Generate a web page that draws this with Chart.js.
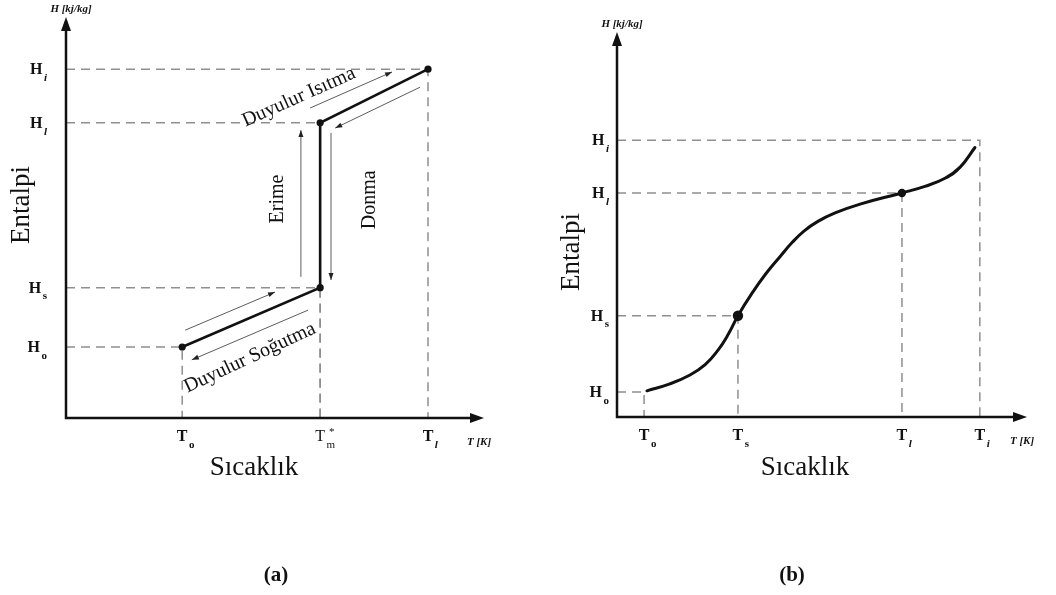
<!DOCTYPE html>
<html>
<head>
<meta charset="utf-8">
<script src="https://cdn.jsdelivr.net/npm/chart.js@4.4.0/dist/chart.umd.min.js"></script>
<style>
  html, body { margin: 0; padding: 0; background: #ffffff; }
  #wrap { position: relative; width: 1056px; height: 595px; overflow: hidden; }
  .pane { position: absolute; top: 0; width: 528px; height: 595px; }
  canvas { display: block; }
</style>
</head>
<body>
<div id="wrap">
  <div class="pane" style="left:0"><canvas id="chartA" width="528" height="595"></canvas></div>
  <div class="pane" style="left:528px"><canvas id="chartB" width="528" height="595"></canvas></div>
</div>
<script>
// ---- (a) idealised phase-change path: sensible heating, melting at T_m*, sensible heating ----
const tempTicksA   = [27.8, 60.8, 86.6];
const tempLabelsA  = ['T_o', 'T_m^*', 'T_l'];
const tempBoldA    = [true, false, true];
const enthTicksA   = [17.7, 32.5, 73.6, 87.0];
const enthLabelsA  = ['H_o', 'H_s', 'H_l', 'H_i'];
const pathTempA    = [27.8, 60.8, 60.8, 86.6];
const pathEnthA    = [17.7, 32.5, 73.6, 87.0];

// ---- (b) real material: smooth enthalpy-temperature curve ----
const tempTicksB   = [6.6, 29.5, 69.5, 88.5];
const tempLabelsB  = ['T_o', 'T_s', 'T_l', 'T_i'];
const tempBoldB    = [true, true, true, true];
const enthTicksB   = [6.5, 26.3, 58.2, 71.9];
const enthLabelsB  = ['H_o', 'H_s', 'H_l', 'H_i'];
const curveTempB   = [7.3, 12.9, 17.8, 21.5, 24.6, 27.1, 29.5, 32.9, 36.3, 39.8, 42.7, 45.6, 49.0, 53.2, 59.3, 69.5, 75.1, 80.0, 83.7, 87.3];
const curveEnthB   = [6.8, 8.6, 10.9, 13.6, 17.3, 21.4, 26.3, 32.1, 37.2, 41.7, 45.3, 48.3, 50.8, 53.0, 55.3, 58.2, 59.9, 62.0, 64.9, 70.0];
const markTempB    = [29.5, 69.5];
const markEnthB    = [26.3, 58.2];

const SERIF = '"Liberation Serif", "Times New Roman", serif';
const INK = '#111111';
const GUIDE = '#8f8f8f';

function zipXY(xs, ys) { return xs.map((x, i) => ({ x, y: ys[i] })); }

// dashed reference lines: from the H axis across to the point, then down to the T axis
function guideSets(ts, hs) {
  return ts.map((t, i) => ({
    data: [{ x: 0, y: hs[i] }, { x: t, y: hs[i] }, { x: t, y: 0 }],
    showLine: true, borderColor: GUIDE, borderWidth: 1.5, borderDash: [9, 6],
    pointRadius: 0, fill: false, order: 5
  }));
}

// label like H_i, T_m^* : base glyph plus subscript (and optional superscript)
function drawLabel(ctx, label, bold, x, baseY, size, anchor) {
  const parts = label.split('_');
  const base = parts[0];
  const rest = (parts[1] || '').split('^');
  const sub = rest[0] || '';
  const sup = rest[1] || '';
  const w = bold ? 'bold ' : '';
  const baseFont = w + size + 'px ' + SERIF;
  const subSize = Math.round(size * 0.68);
  const subIt = (sub === 'i' || sub === 'l') ? 'italic ' : '';
  const subFont = subIt + w + subSize + 'px ' + SERIF;
  ctx.font = baseFont; const bw = ctx.measureText(base).width;
  ctx.font = subFont; const sw = ctx.measureText(sub).width;
  const x0 = anchor === 'right' ? x - bw - 1.5 - sw : x - bw / 2;
  ctx.textAlign = 'left'; ctx.textBaseline = 'alphabetic';
  ctx.fillStyle = INK;
  ctx.font = baseFont; ctx.fillText(base, x0, baseY);
  ctx.font = subFont; ctx.fillText(sub, x0 + bw + 1.5, baseY + size * 0.42);
  if (sup) {
    ctx.font = subSize + 'px ' + SERIF;
    ctx.fillText(sup, x0 + bw + 1.5 + sw * 0.3, baseY - size * 0.38);
  }
}

function arrowHead(ctx, x1, y1, x2, y2, len, half) {
  const a = Math.atan2(y2 - y1, x2 - x1);
  ctx.beginPath();
  ctx.moveTo(x2, y2);
  ctx.lineTo(x2 - len * Math.cos(a) + half * Math.sin(a), y2 - len * Math.sin(a) - half * Math.cos(a));
  ctx.lineTo(x2 - len * Math.cos(a) - half * Math.sin(a), y2 - len * Math.sin(a) + half * Math.cos(a));
  ctx.closePath();
  ctx.fill();
}

function rotatedText(ctx, text, x, y, deg, font) {
  ctx.save();
  ctx.translate(x, y);
  ctx.rotate(deg * Math.PI / 180);
  ctx.font = font; ctx.fillStyle = INK;
  ctx.textAlign = 'center'; ctx.textBaseline = 'middle';
  ctx.fillText(text, 0, 0);
  ctx.restore();
}

// axes with arrow tips, tick labels, axis titles, notes and flow arrows
function decorPlugin(cfg) {
  return {
    id: 'decor',
    afterDatasetsDraw(chart) {
      const ctx = chart.ctx;
      const xs = chart.scales.x, ys = chart.scales.y;
      const ox = xs.getPixelForValue(0), oy = ys.getPixelForValue(0);
      const tipX = xs.getPixelForValue(100), tipY = ys.getPixelForValue(100);
      ctx.save();
      // axes
      ctx.strokeStyle = INK; ctx.fillStyle = INK; ctx.lineWidth = 2.5; ctx.lineCap = 'butt';
      ctx.beginPath();
      ctx.moveTo(ox, tipY + 8); ctx.lineTo(ox, oy); ctx.lineTo(tipX - 8, oy);
      ctx.stroke();
      arrowHead(ctx, ox, oy, ox, tipY, 14, 5);
      arrowHead(ctx, ox, oy, tipX, oy, 14, 5);

      // flow arrows (thin)
      ctx.strokeStyle = '#4a4a4a'; ctx.fillStyle = '#222'; ctx.lineWidth = 0.9;
      (cfg.flows || []).forEach(f => {
        const x1 = xs.getPixelForValue(f[0]), y1 = ys.getPixelForValue(f[1]);
        const x2 = xs.getPixelForValue(f[2]), y2 = ys.getPixelForValue(f[3]);
        ctx.beginPath(); ctx.moveTo(x1, y1); ctx.lineTo(x2, y2); ctx.stroke();
        arrowHead(ctx, x1, y1, x2, y2, 7, 2.5);
      });

      // tick labels
      cfg.hTicks.forEach((v, i) => {
        drawLabel(ctx, cfg.hLabels[i], true, ox - cfg.hGap, ys.getPixelForValue(v) + 5, 16, 'right');
      });
      cfg.tTicks.forEach((v, i) => {
        drawLabel(ctx, cfg.tLabels[i], cfg.tBold[i], xs.getPixelForValue(v), oy + 23, 16, 'center');
      });

      // unit labels
      ctx.fillStyle = INK;
      ctx.font = 'italic bold 11px ' + SERIF;
      ctx.textAlign = 'center'; ctx.textBaseline = 'middle';
      ctx.fillText('H [kj/kg]', ox + 5, tipY - 8);
      ctx.fillText('T [K]', tipX - 5, oy + 24);

      // axis titles
      rotatedText(ctx, 'Entalpi', cfg.yTitle[0], cfg.yTitle[1], -90, '27px ' + SERIF);
      ctx.font = '27px ' + SERIF; ctx.fillStyle = INK;
      ctx.textAlign = 'center'; ctx.textBaseline = 'alphabetic';
      ctx.fillText('Sıcaklık', cfg.xTitle[0], cfg.xTitle[1]);

      // notes along the path
      (cfg.notes || []).forEach(n => {
        rotatedText(ctx, n[0], xs.getPixelForValue(n[1]), ys.getPixelForValue(n[2]), n[3], '20px ' + SERIF);
      });

      // panel caption
      ctx.font = 'bold 21px ' + SERIF; ctx.fillStyle = INK;
      ctx.textAlign = 'center'; ctx.textBaseline = 'alphabetic';
      ctx.fillText(cfg.caption, cfg.captionPos[0], cfg.captionPos[1]);
      ctx.restore();
    }
  };
}

function baseOptions(pad) {
  return {
    responsive: false,
    animation: false,
    devicePixelRatio: 1,
    layout: { padding: pad },
    plugins: { legend: { display: false }, tooltip: { enabled: false } },
    scales: {
      x: { type: 'linear', min: 0, max: 100, display: false },
      y: { type: 'linear', min: 0, max: 100, display: false }
    }
  };
}

// chart (a)
new Chart(document.getElementById('chartA'), {
  type: 'scatter',
  data: {
    datasets: [
      {
        data: zipXY(pathTempA, pathEnthA),
        showLine: true, borderColor: INK, borderWidth: 2.6, tension: 0,
        pointRadius: 3.6, pointBackgroundColor: INK, pointBorderWidth: 0,
        clip: false, order: 0
      },
      ...guideSets(pathTempA, pathEnthA)
    ]
  },
  options: baseOptions({ left: 66, right: 44, top: 17, bottom: 177 }),
  plugins: [decorPlugin({
    hTicks: enthTicksA, hLabels: enthLabelsA, hGap: 19,
    tTicks: tempTicksA, tLabels: tempLabelsA, tBold: tempBoldA,
    yTitle: [22, 205], xTitle: [254, 475],
    caption: '(a)', captionPos: [276, 581],
    notes: [
      ['Duyulur Isıtma', 55.7, 80.0, -24],
      ['Erime', 50.7, 54.6, -90],
      ['Donma', 72.7, 54.4, -90],
      ['Duyulur Soğutma', 44.0, 15.0, -25]
    ],
    flows: [
      [58.4, 77.3, 78.0, 86.3],
      [84.7, 82.5, 64.4, 72.3],
      [56.2, 35.2, 56.2, 71.8],
      [63.4, 71.1, 63.4, 34.4],
      [28.5, 21.9, 50.0, 31.4],
      [57.9, 26.9, 30.1, 14.5]
    ]
  })]
});

// chart (b)
new Chart(document.getElementById('chartB'), {
  type: 'scatter',
  data: {
    datasets: [
      {
        data: zipXY(markTempB, markEnthB),
        showLine: false, pointRadius: [5.2, 4.2], pointBackgroundColor: INK,
        pointBorderWidth: 0, clip: false, order: 0
      },
      {
        data: zipXY(curveTempB, curveEnthB),
        showLine: true, borderColor: INK, borderWidth: 3, tension: 0.45,
        borderJoinStyle: 'round', borderCapStyle: 'round',
        pointRadius: 0, clip: false, order: 1
      },
      ...guideSets(tempTicksB, enthTicksB)
    ]
  },
  options: baseOptions({ left: 89, right: 29, top: 32, bottom: 178 }),
  plugins: [decorPlugin({
    hTicks: enthTicksB, hLabels: enthLabelsB, hGap: 8,
    tTicks: tempTicksB, tLabels: tempLabelsB, tBold: tempBoldB,
    yTitle: [44, 252], xTitle: [277, 475],
    caption: '(b)', captionPos: [264, 581]
  })]
});
</script>
</body>
</html>
